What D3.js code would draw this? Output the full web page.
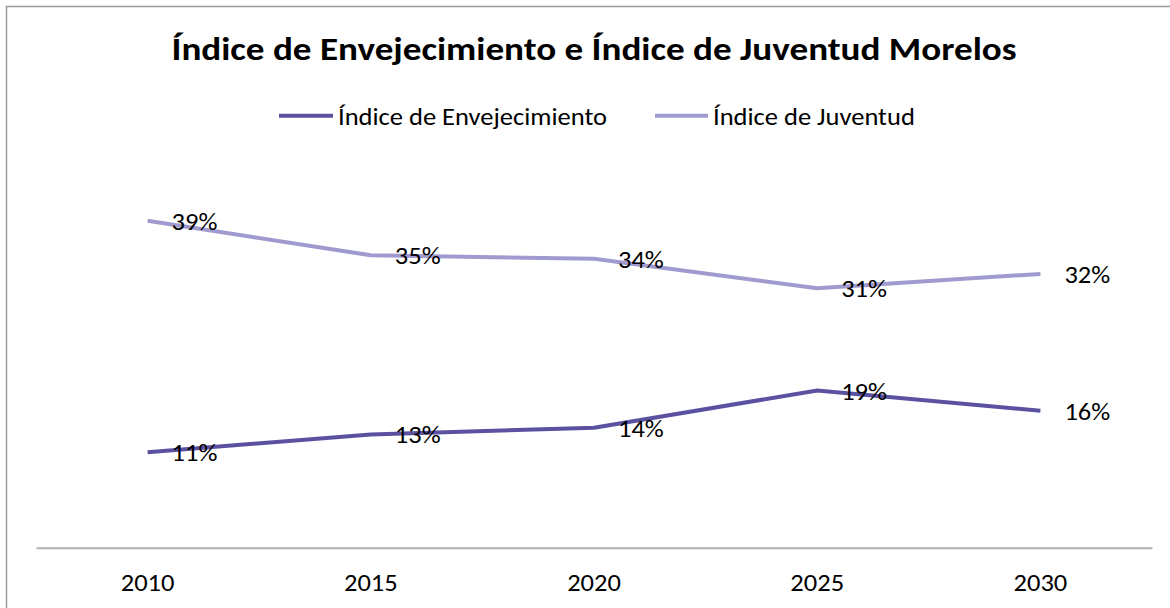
<!DOCTYPE html>
<html>
<head>
<meta charset="utf-8">
<script src="https://cdn.jsdelivr.net/npm/d3@7"></script>
<style>
  html, body { margin: 0; padding: 0; background: #fff; }
  svg { display: block; }
  text { font-family: Carlito, Calibri, Lato, "Open Sans", sans-serif; fill: #000; }
</style>
</head>
<body>
<svg id="chart" width="1170" height="608"></svg>
<script>
const chartTitle = "Índice de Envejecimiento e Índice de Juventud Morelos";
const years = ["2010", "2015", "2020", "2025", "2030"];
const seriesNames = ["Índice de Envejecimiento", "Índice de Juventud"];
const envejecimiento = [0.113, 0.134, 0.142, 0.186, 0.162];
const juventud = [0.387, 0.346, 0.342, 0.307, 0.324];
const seriesColors = ["#5b51a1", "#a09bcf"];

const svg = d3.select("#chart");
const W = 1170, H = 608;

// outer border
svg.append("rect")
  .attr("x", 6.5).attr("y", 6.5)
  .attr("width", W + 20).attr("height", H + 20)
  .attr("fill", "#fff")
  .attr("stroke", "#9a9a9a")
  .attr("stroke-width", 1.5);

const x = d3.scaleBand().domain(years).range([36, 1152]).paddingInner(0).paddingOuter(0);
const y = d3.scaleLinear().domain([0, 0.45]).range([547.7, 167.45]);
const cx = d => x(d) + x.bandwidth() / 2;

// title
const titleText = svg.append("text")
  .attr("x", 594).attr("y", 60)
  .attr("text-anchor", "middle")
  .style("font-weight", "bold")
  .style("font-size", "32px")
  .text(chartTitle);

// x axis
const axisG = svg.append("g")
  .attr("transform", "translate(0,547.7)")
  .call(d3.axisBottom(x).tickSize(0).tickSizeOuter(0));
axisG.select(".domain").attr("stroke", "#b0b0b0").attr("stroke-width", 2);
axisG.selectAll(".tick text")
  .attr("class", "reg")
  .attr("y", 43).attr("dy", 0)
  .style("font-family", "Carlito, Calibri, Lato, 'Open Sans', sans-serif")
  .style("fill", "#000");

// lines
const series = [
  { name: seriesNames[0], values: envejecimiento, color: seriesColors[0] },
  { name: seriesNames[1], values: juventud, color: seriesColors[1] }
];
const line = d3.line().x((d, i) => cx(years[i])).y(d => y(d));

series.forEach(s => {
  svg.append("path")
    .datum(s.values)
    .attr("d", line)
    .attr("fill", "none")
    .attr("stroke", s.color)
    .attr("stroke-width", 4)
    .attr("stroke-linejoin", "round");
});

// data labels
const fmt = d3.format(".0%");
series.forEach(s => {
  svg.append("g").selectAll("text")
    .data(s.values)
    .join("text")
    .attr("class", "reg")
    .attr("x", (d, i) => cx(years[i]) + 24)
    .attr("y", d => y(d))
    .attr("dy", "0.36em")
    .text(d => fmt(d));
});

// legend
const legendItems = [
  { name: seriesNames[0], color: seriesColors[0], x0: 279, x1: 333, tx: 338 },
  { name: seriesNames[1], color: seriesColors[1], x0: 655, x1: 708, tx: 713 }
];
const legendTexts = [];
legendItems.forEach(l => {
  svg.append("line")
    .attr("x1", l.x0).attr("x2", l.x1)
    .attr("y1", 115.7).attr("y2", 115.7)
    .attr("stroke", l.color).attr("stroke-width", 4);
  legendTexts.push(svg.append("text")
    .attr("class", "reg")
    .attr("x", l.tx).attr("y", 115.7)
    .attr("dy", "0.36em")
    .text(l.name));
});

// narrow the glyphs to the reference widths, keeping glyph height
svg.selectAll("text.reg").style("font-size", "25px");
const w0 = legendTexts[0].node().getComputedTextLength();
const k = 269 / w0;
svg.selectAll("text.reg").each(function () {
  const w = this.getComputedTextLength();
  d3.select(this).attr("textLength", w * k).attr("lengthAdjust", "spacingAndGlyphs");
});
const tw = titleText.node().getComputedTextLength();
titleText.attr("textLength", 845).attr("lengthAdjust", "spacingAndGlyphs");
</script>
</body>
</html>
